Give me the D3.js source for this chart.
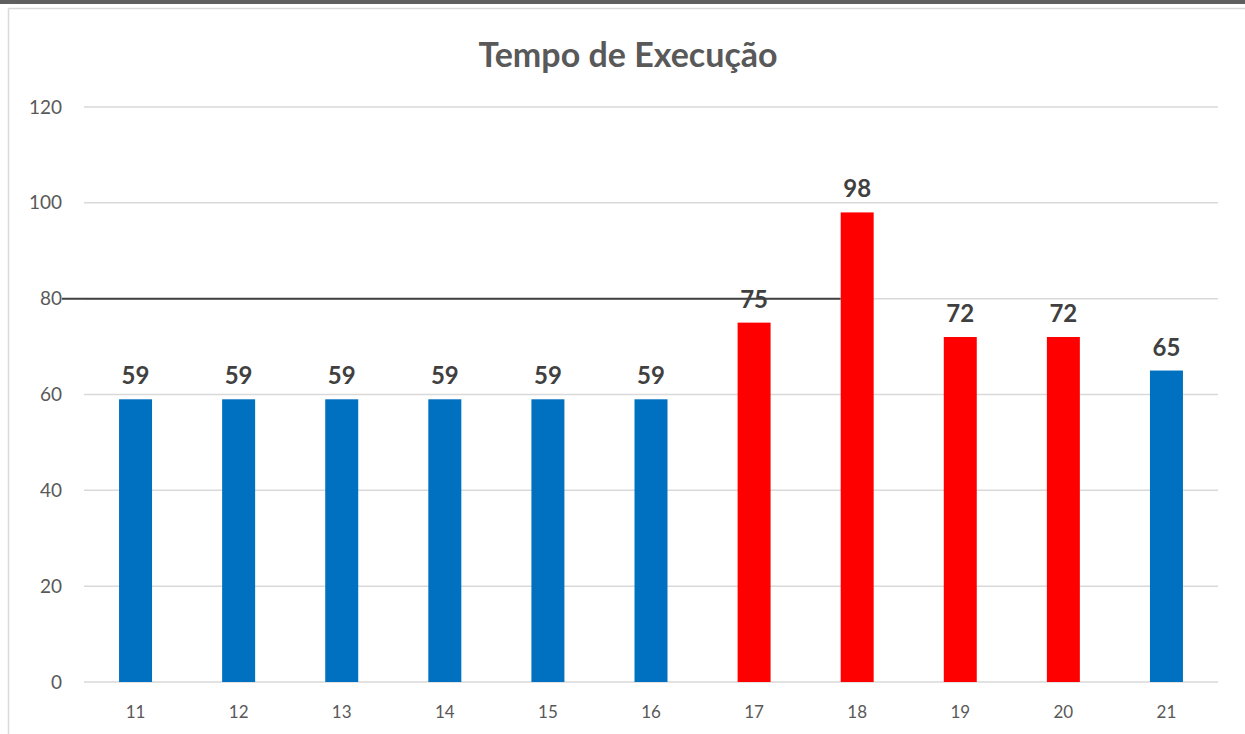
<!DOCTYPE html>
<html><head><meta charset="utf-8">
<script src="https://cdn.jsdelivr.net/npm/d3@7"></script>
<style>
html,body{margin:0;padding:0;background:#fff;}
svg{display:block;font-family:Lato,"Noto Sans",sans-serif;}
</style></head>
<body><svg id="c" width="1245" height="734"></svg>
<script>
const categories = ["11","12","13","14","15","16","17","18","19","20","21"];
const values = [59,59,59,59,59,59,75,98,72,72,65];
const yTicks = [0,20,40,60,80,100,120];
const limite = 80;
const corteCor = 70;
const title = "Tempo de Execução";

const svg = d3.select("#c");
const W = 1245, H = 734;
const m = {l:84, r:27, t:107, b:52};

// frame
svg.append("rect").attr("x",0).attr("y",0).attr("width",W).attr("height",4).attr("fill","#5f5f5f");
svg.append("line").attr("x1",8.5).attr("x2",W).attr("y1",8.5).attr("y2",8.5).attr("stroke","#d9d9d9").attr("stroke-width",1.5);
svg.append("line").attr("x1",8.5).attr("x2",8.5).attr("y1",8.5).attr("y2",H).attr("stroke","#d9d9d9").attr("stroke-width",1.5);

const x = d3.scaleBand().domain(categories).range([m.l, W - m.r]).padding(0);
const y = d3.scaleLinear().domain([0,120]).range([H - m.b, m.t]);
const bw = x.bandwidth()*0.32;

// gridlines
svg.append("g").selectAll("line").data(yTicks).join("line")
  .attr("x1",m.l).attr("x2",W-m.r)
  .attr("y1",d=>y(d)).attr("y2",d=>y(d))
  .attr("stroke","#d9d9d9").attr("stroke-width",1.5);

// y axis labels
svg.append("g").selectAll("text").data(yTicks).join("text")
  .attr("x",62).attr("y",d=>y(d)).attr("dy","0.35em")
  .attr("text-anchor","end").attr("fill","#595959").attr("font-size",19)
  .text(d=>d);

// x axis labels
svg.append("g").selectAll("text").data(categories).join("text")
  .attr("x",d=>x(d)+x.bandwidth()/2).attr("y",718)
  .attr("text-anchor","middle").attr("fill","#595959").attr("font-size",17)
  .text(d=>d);

// bars
const data = categories.map((c,i)=>({c, v:values[i]}));
svg.append("g").selectAll("rect").data(data).join("rect")
  .attr("x",d=>x(d.c)+x.bandwidth()/2-bw/2)
  .attr("width",bw)
  .attr("y",d=>y(d.v))
  .attr("height",d=>y(0)-y(d.v))
  .attr("fill",d=>d.v>corteCor?"#FF0000":"#0070C0");

// threshold line
const endCat = categories[7];
svg.append("line")
  .attr("x1",62).attr("x2",x(endCat)+x.bandwidth()/2-bw/2)
  .attr("y1",y(limite)).attr("y2",y(limite))
  .attr("stroke","#404040").attr("stroke-width",2);

// data labels
svg.append("g").selectAll("text").data(data).join("text")
  .attr("x",d=>x(d.c)+x.bandwidth()/2).attr("y",d=>y(d.v)-15)
  .attr("text-anchor","middle").attr("fill","#404040").attr("font-size",24).attr("font-weight","bold")
  .text(d=>d.v);

// title
svg.append("text").attr("x",628).attr("y",67).attr("text-anchor","middle")
  .attr("fill","#595959").attr("font-size",34).attr("font-weight","bold").text(title);
</script></body></html>
